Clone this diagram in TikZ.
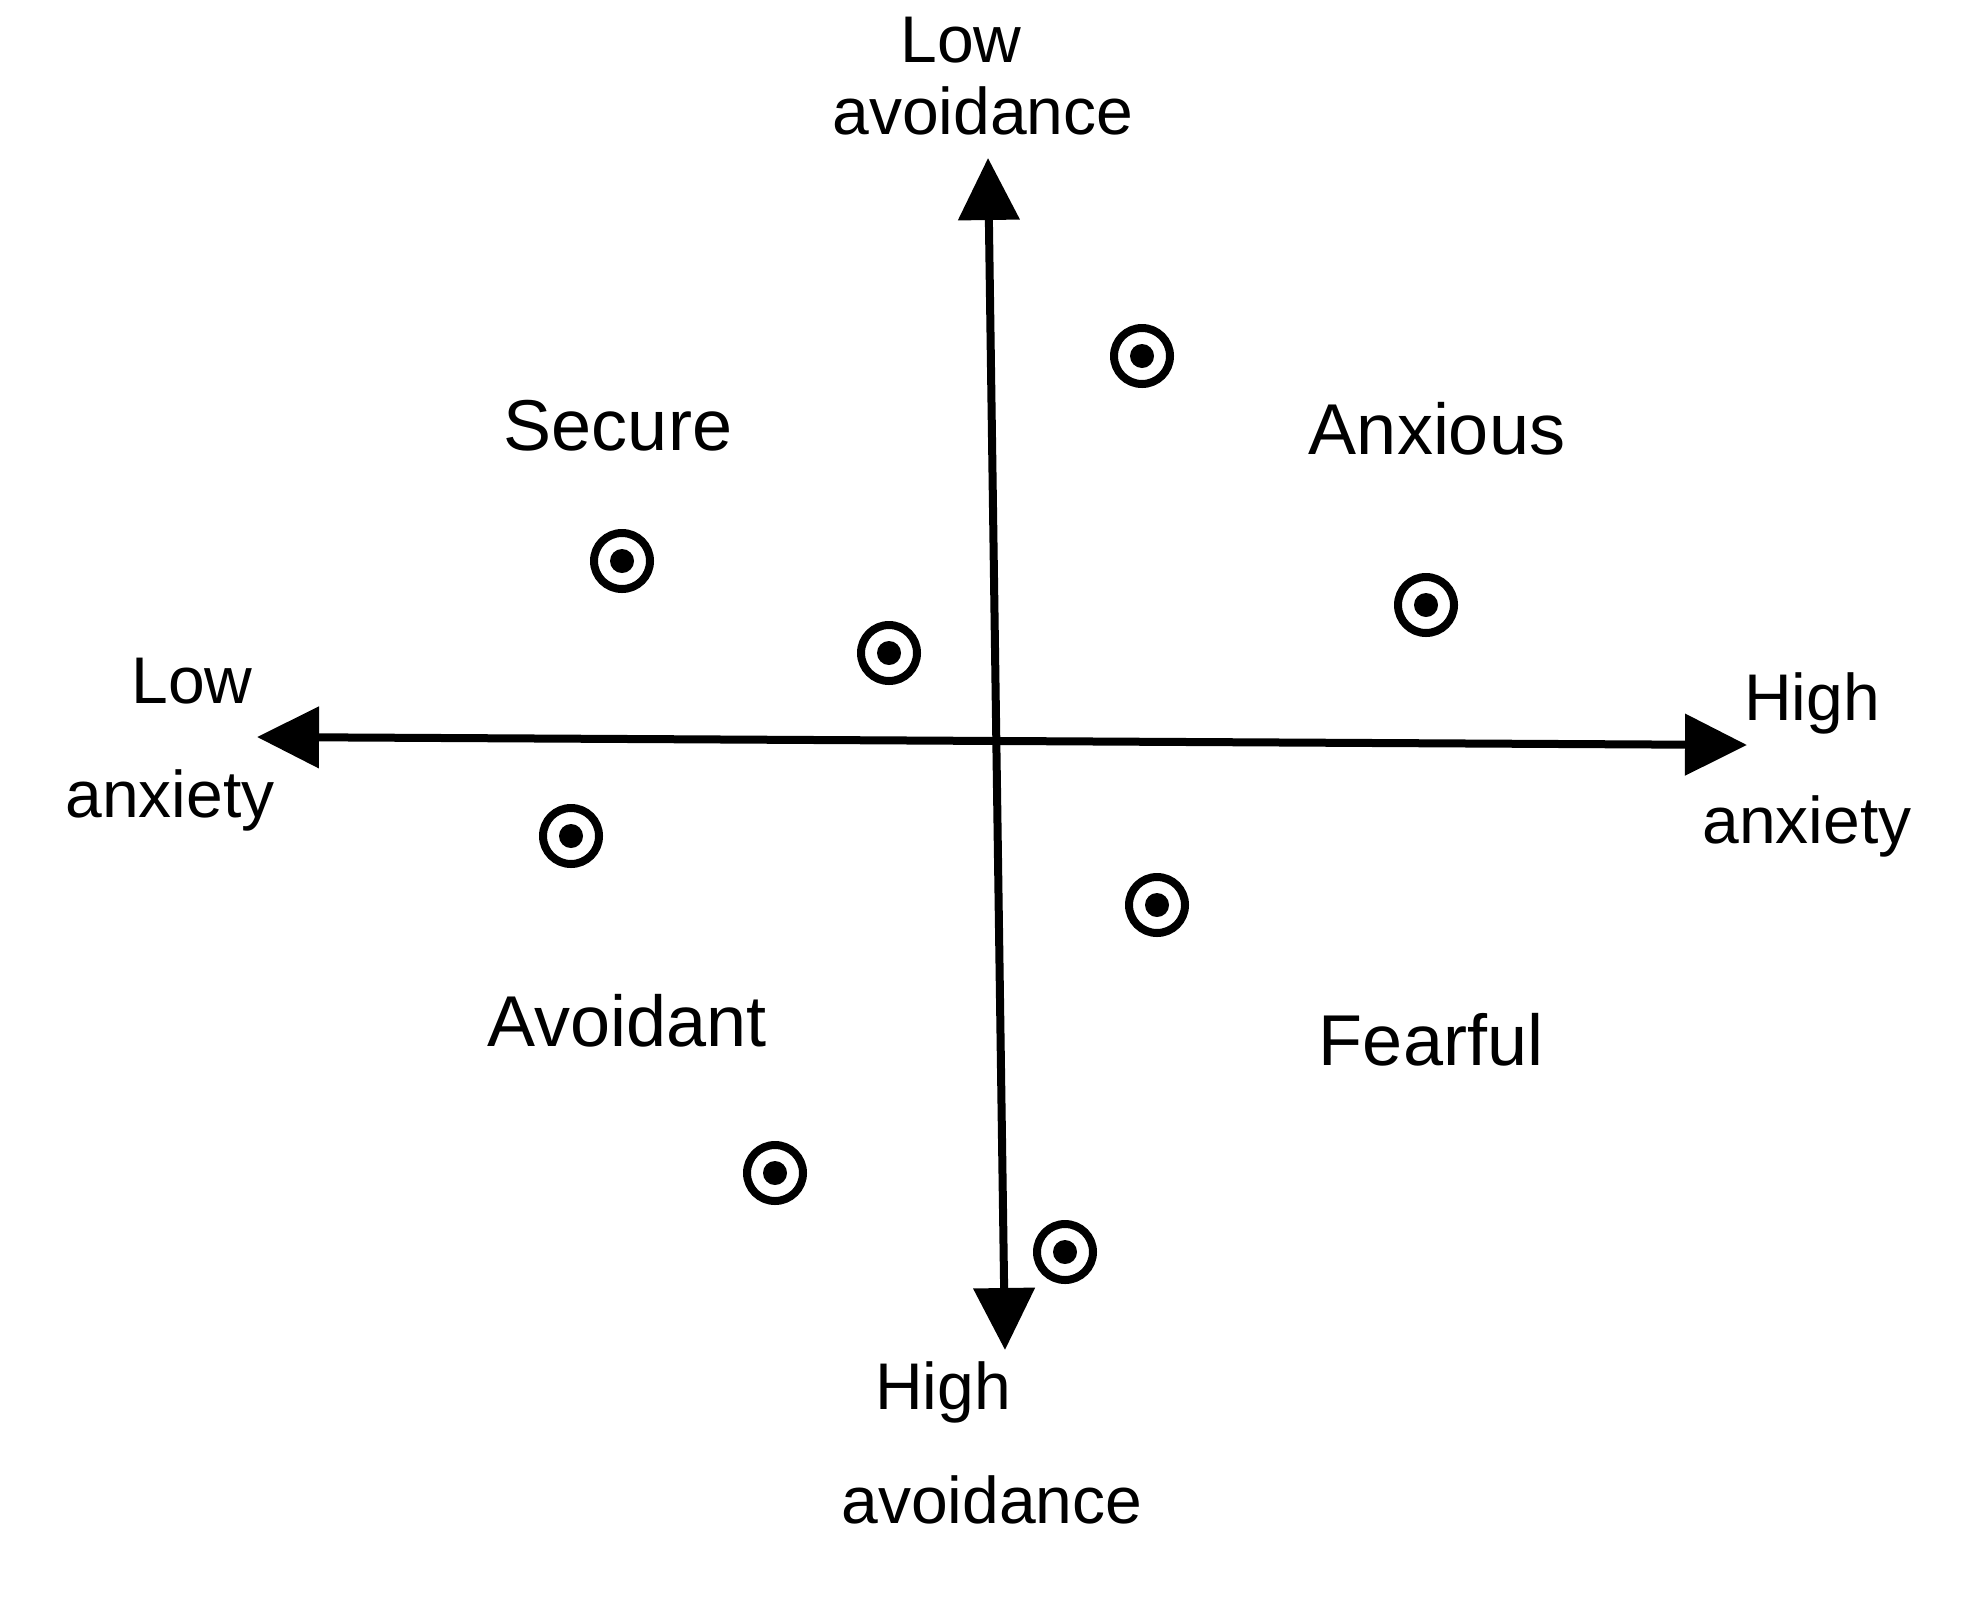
\documentclass[tikz,border=0pt]{standalone}
\usepackage{fontspec}
\setmainfont{Liberation Sans}
\usetikzlibrary{arrows.meta}
\begin{document}
\begin{tikzpicture}[x=1pt,y=-1pt,
  axis/.style={line width=8pt, {Triangle[length=62pt,width=60pt]}-{Triangle[length=62pt,width=60pt]}},
  axislabel/.style={font=\fontsize{66}{70}\selectfont, inner sep=0pt},
  quadlabel/.style={font=\fontsize{72}{76}\selectfont, inner sep=0pt},
  target/.style={circle, draw, line width=8pt, minimum size=56pt, inner sep=0pt,
    path picture={\fill (path picture bounding box.center) circle (12pt);}}
]
\useasboundingbox (0,0) rectangle (1977,1617);
\fill[white] (0,0) rectangle (1977,1617);

% axis end points
\coordinate (top) at (988,158);
\coordinate (bottom) at (1005,1350);
\coordinate (left) at (257,737);
\coordinate (right) at (1747,745);

\draw[axis] (left) -- (right);
\draw[axis] (top) -- (bottom);

% axis labels
\node[axislabel] (lowav1) at (961,40) {Low};
\node[axislabel] (lowav2) at (983,111) {avoidance};
\node[axislabel] (highav1) at (943,1392) {High};
\node[axislabel] (highav2) at (992,1500) {avoidance};
\node[axislabel] (lowan1) at (192,681) {Low};
\node[axislabel] (lowan2) at (170,800) {anxiety};
\node[axislabel] (highan1) at (1812,703) {High};
\node[axislabel] (highan2) at (1807,826) {anxiety};

% quadrant labels
\node[quadlabel] (secure) at (618,426) {Secure};
\node[quadlabel] (anxious) at (1437,429) {Anxious};
\node[quadlabel] (avoidant) at (627,1021) {Avoidant};
\node[quadlabel] (fearful) at (1431,1040) {Fearful};

% targets
\node[target] (t1) at (1142,356) {};
\node[target] (t2) at (622,561) {};
\node[target] (t3) at (889,653) {};
\node[target] (t4) at (1426,605) {};
\node[target] (t5) at (571,836) {};
\node[target] (t6) at (1157,905) {};
\node[target] (t7) at (775,1173) {};
\node[target] (t8) at (1065,1252) {};
\end{tikzpicture}
\end{document}
